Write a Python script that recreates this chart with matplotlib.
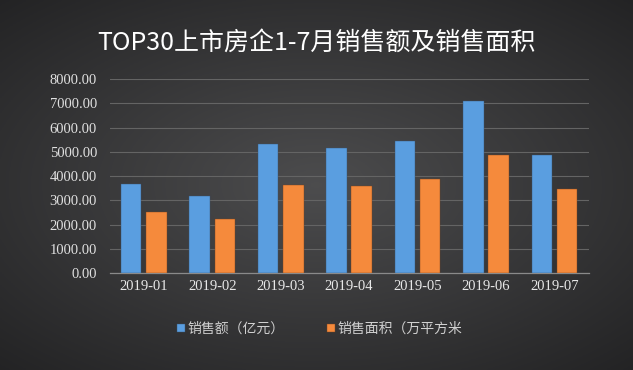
import numpy as np
import matplotlib.pyplot as plt

plt.rcParams['font.family'] = ['Noto Sans CJK SC', 'DejaVu Sans']

# -------------------- Data --------------------

months = ['2019-01', '2019-02', '2019-03', '2019-04', '2019-05', '2019-06', '2019-07']
sales = [3690, 3170, 5310, 5170, 5460, 7110, 4880]   # 销售额（亿元）
area = [2530, 2240, 3650, 3610, 3900, 4880, 3480]    # 销售面积（万平方米）
yticks = [0, 1000, 2000, 3000, 4000, 5000, 6000, 7000, 8000]

title = 'TOP30上市房企1-7月销售额及销售面积'
label_sales = '销售额（亿元）'
label_area = '销售面积（万平方米'

# -------------------- Figure --------------------

fig = plt.figure(figsize=(6.33, 3.70), dpi=100)

# radial dark-grey background
bg = fig.add_axes([0, 0, 1, 1], zorder=-10)
yy, xx = np.mgrid[-1:1:200j, -1:1:340j]
rr = np.clip(np.sqrt((xx * 0.85) ** 2 + (yy * 0.9) ** 2), 0, 1.3)
shade = 0.30 - 0.13 * rr
img = np.dstack([shade, shade, shade + 0.005])
bg.imshow(img, aspect='auto', extent=[0, 1, 0, 1])
bg.axis('off')

ax = fig.add_axes([0.173, 0.262, 0.757, 0.524])
ax.patch.set_alpha(0)

x = np.arange(len(months))
w = 0.3
off = 0.185
ax.bar(x - off, sales, w, color='#5a9ee0', edgecolor='#3a5470', linewidth=0.3,
       label=label_sales, zorder=3)
ax.bar(x + off, area, w, color='#f58a3c', edgecolor='#7a4420', linewidth=0.3,
       label=label_area, zorder=3)

ax.set_xlim(-0.5, len(months) - 0.5)
ax.set_ylim(0, 8000)
ax.set_yticks(yticks)
ax.set_yticklabels([f'{v:.2f}' for v in yticks], family='Liberation Serif',
                   fontsize=10.5, color='#e0e0e0')
ax.set_xticks(x)
ax.set_xticklabels(months, family='Liberation Serif', fontsize=10.5, color='#e8e8e8')
ax.tick_params(length=0, pad=9)
ax.tick_params(axis='x', pad=5)

ax.grid(axis='y', color='#646464', linewidth=0.8, zorder=0)
for s in ['top', 'right', 'left']:
    ax.spines[s].set_visible(False)
ax.spines['bottom'].set_color('#8a8a8a')
ax.spines['bottom'].set_linewidth(0.9)

fig.text(0.5, 0.885, title, ha='center', va='center', fontsize=18,
         color='white', fontweight='medium')

fig.legend(loc='center', bbox_to_anchor=(0.505, 0.111), ncol=2, frameon=False,
           fontsize=10, labelcolor='#d0d0d0', handlelength=0.6,
           handleheight=0.6, handletextpad=0.2, columnspacing=3.0)

fig.savefig('out.png', dpi=100)
